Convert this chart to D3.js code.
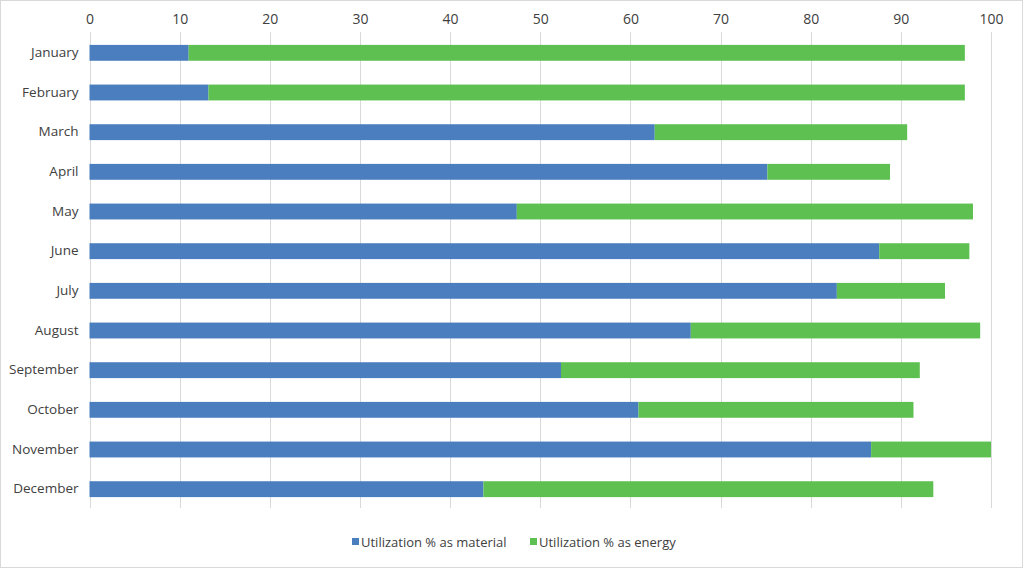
<!DOCTYPE html>
<html><head><meta charset="utf-8">
<script src="https://cdn.jsdelivr.net/npm/d3@7"></script>
<style>body{margin:0;background:#fff}svg{display:block}</style>
</head><body>
<svg id="c" width="1023" height="568"></svg>
<script>
const months = ["January","February","March","April","May","June","July","August","September","October","November","December"];
const material = [11.0, 13.2, 62.7, 75.2, 47.4, 87.6, 82.9, 66.7, 52.3, 60.9, 86.7, 43.7];
const energy = [86.1, 83.9, 28.0, 13.6, 50.6, 10.0, 12.0, 32.1, 39.8, 30.5, 13.3, 49.9];
const tickValues = [0,10,20,30,40,50,60,70,80,90,100];
const seriesNames = ["Utilization % as material","Utilization % as energy"];
const colors = ["#4a7ebf","#5ec050"];

const svg = d3.select("#c");
const W = 1023, H = 568;
svg.append("rect").attr("x",0.5).attr("y",0.5).attr("width",W-1).attr("height",H-1)
  .attr("fill","#fff").attr("stroke","#d9d9d9");

const x = d3.scaleLinear().domain([0,100]).range([89.5,991]);
const y = d3.scaleBand().domain(months).range([33,509]).paddingInner(0.6).paddingOuter(0.3);
const font = "'Open Sans', 'Liberation Sans', sans-serif";

const gx = svg.append("g").attr("transform","translate(0,32)")
  .call(d3.axisTop(x).tickValues(tickValues).tickSize(0).tickPadding(8).tickFormat(d3.format("d")));
gx.select(".domain").remove();
gx.selectAll("text").attr("font-family",font).attr("font-size",14).attr("fill","#404040");
svg.append("g").selectAll("line").data(tickValues).join("line")
  .attr("x1",d=>Math.round(x(d))+0.5).attr("x2",d=>Math.round(x(d))+0.5)
  .attr("y1",32).attr("y2",508).attr("stroke","#d9d9d9").attr("stroke-width",1);

const stackData = months.map((m,i)=>({month:m, material:material[i], energy:energy[i]}));
const stack = d3.stack().keys(["material","energy"])(stackData);
svg.append("g").selectAll("g").data(stack).join("g").attr("fill",(d,i)=>colors[i])
  .selectAll("rect").data(d=>d).join("rect")
  .attr("x",d=>x(d[0])).attr("width",d=>x(d[1])-x(d[0]))
  .attr("y",d=>y(d.data.month)).attr("height",y.bandwidth());

const gy = svg.append("g").attr("transform","translate(89.5,0)")
  .call(d3.axisLeft(y).tickSize(0).tickPadding(11));
gy.select(".domain").remove();
gy.selectAll("text").attr("font-family",font).attr("font-size",13.5).attr("fill","#404040");

const legX = [352, 530];
const leg = svg.append("g");
seriesNames.forEach((n,i)=>{
  leg.append("rect").attr("x",legX[i]).attr("y",538).attr("width",7).attr("height",7).attr("fill",colors[i]);
  leg.append("text").attr("x",legX[i]+9).attr("y",547).attr("font-family",font).attr("font-size",13)
    .attr("fill","#404040").text(n);
});
</script>
</body></html>
